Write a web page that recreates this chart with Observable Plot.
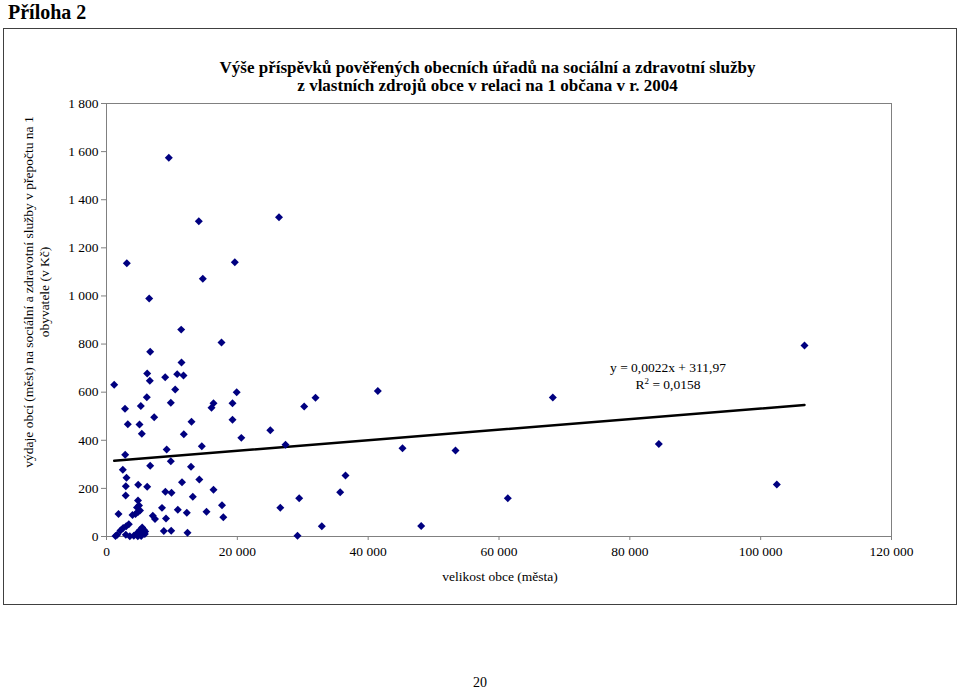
<!DOCTYPE html>
<html>
<head>
<meta charset="utf-8">
<script src="https://cdn.jsdelivr.net/npm/d3@7"></script>
<script src="https://cdn.jsdelivr.net/npm/@observablehq/plot@0.6"></script>
<style>
  body { margin:0; width:960px; height:691px; position:relative; background:#fff; font-family:"Liberation Serif","Times New Roman",serif; color:#000; overflow:hidden; }
  .abs { position:absolute; white-space:nowrap; }
</style>
</head>
<body>
<div class="abs" style="left:8px; top:1px; font-weight:bold; font-size:20px; line-height:22px;">Příloha 2</div>
<div class="abs" style="left:3px; top:28px; width:954px; height:577px; border:1px solid #404040; box-sizing:border-box;"></div>
<div id="chart" class="abs" style="left:0; top:0;"></div>
<div class="abs" style="left:0; width:975px; top:59px; text-align:center; font-weight:bold; font-size:17px; line-height:18px;">Výše příspěvků pověřených obecních úřadů na sociální a zdravotní služby<br>z vlastních zdrojů obce v relaci na 1 občana v r. 2004</div>
<div class="abs" style="left:400px; width:200px; top:569px; text-align:center; font-size:13.5px;">velikost obce (města)</div>
<div class="abs" style="left:37px; top:292px; width:0; height:0;">
  <div style="position:absolute; transform:translate(-50%,-50%) rotate(-90deg); text-align:center; font-size:13.5px; line-height:16px; white-space:nowrap;">výdaje obcí (měst) na sociální a zdravotní služby v přepočtu na 1<br>obyvatele (v Kč)</div>
</div>
<div class="abs" style="left:568px; width:200px; top:359px; text-align:center; font-size:13.5px; line-height:17px;">y = 0,0022x + 311,97<br>R<sup style="font-size:9px; line-height:0;">2</sup> = 0,0158</div>
<div class="abs" style="left:430px; width:100px; top:675px; text-align:center; font-size:14px;">20</div>
<script>
// population of municipality (x) and spending per inhabitant in CZK (y)
const population = [
  1177, 9524, 3103, 14110, 26370, 19613, 14721, 6528, 11420, 17580,
  6680, 11465, 6222, 6619, 8973, 10808, 11771, 10502, 19904, 6161,
  2828, 5243, 9830, 16357, 16051, 19262, 3256, 5045, 5396, 7292,
  12994, 11817, 19262, 20607, 25040, 14569, 2859, 9203, 9830, 6680,
  12918, 2492, 3057, 2950, 4846, 6222, 11542, 14186, 16357, 2935,
  9004, 9937, 13193, 4815, 4968, 4663, 5121, 4815, 4433, 3975,
  1834, 8484, 10900, 12276, 15287, 17657, 17855, 7078, 7414, 9096,
  3409, 3012, 2553, 2140, 5458, 5702, 5091, 5549, 4693, 5916,
  1636, 1376, 2950, 3562, 4173, 4785, 5305, 5855, 8759, 9891,
  12383, 26569, 30222, 31950, 41474, 27364, 29458, 35726, 36536, 32913,
  29198, 68226, 106703, 45250, 53352, 84430, 61347, 48108, 102469
];
const spending = [
  631, 1574, 1136, 1311, 1327, 1140, 1071, 989, 860, 806,
  768, 723, 678, 647, 662, 675, 669, 611, 600, 579,
  531, 542, 556, 554, 535, 554, 467, 466, 427, 496,
  477, 425, 485, 410, 442, 375, 340, 362, 313, 294,
  290, 277, 244, 209, 215, 207, 226, 237, 194, 170,
  186, 182, 165, 150, 129, 121, 108, 102, 94, 89,
  94, 119, 111, 99, 103, 130, 80, 86, 73, 75,
  51, 43, 35, 25, 37, 28, 26, 18, 15, 21,
  7, 2, 7, 1, 3, 1, 2, 10, 23, 24,
  16, 120, 540, 577, 605, 381, 159, 184, 254, 43,
  3, 578, 794, 367, 358, 385, 159, 44, 216
];
const xTicks = [0, 20000, 40000, 60000, 80000, 100000, 120000];
const yTicks = [0, 200, 400, 600, 800, 1000, 1200, 1400, 1600, 1800];
const trendSlope = 0.0022;
const trendIntercept = 311.97;

const points = population.map((x, i) => ({x, y: spending[i]}));
const xMin = d3.min(population), xMax = d3.max(population);
const trend = [xMin, xMax].map(x => ({x, y: trendSlope * x + trendIntercept}));
const fmt = d => d3.format(",")(d).replace(/,/g, " ");

const chart = Plot.plot({
  width: 960,
  height: 610,
  marginLeft: 106,
  marginRight: 69,
  marginTop: 103,
  marginBottom: 74,
  style: {fontFamily: "Liberation Serif, Times New Roman, serif", fontSize: "13.5px", background: "transparent", color: "#000"},
  x: {domain: [0, 120000]},
  y: {domain: [0, 1800]},
  marks: [
    Plot.frame({stroke: "#808080"}),
    Plot.axisX({ticks: xTicks, tickFormat: fmt, tickSize: 4, tickPadding: 6, stroke: "#808080", fill: "#000", label: null}),
    Plot.axisY({ticks: yTicks, tickFormat: fmt, tickSize: 5, tickPadding: 3, stroke: "#808080", fill: "#000", label: null}),
    Plot.line(trend, {x: "x", y: "y", stroke: "#000", strokeWidth: 2.5}),
    Plot.dot(points, {x: "x", y: "y", symbol: "diamond2", r: 3.6, fill: "#000080", stroke: "none"})
  ]
});
document.getElementById("chart").appendChild(chart);
</script>
</body>
</html>
